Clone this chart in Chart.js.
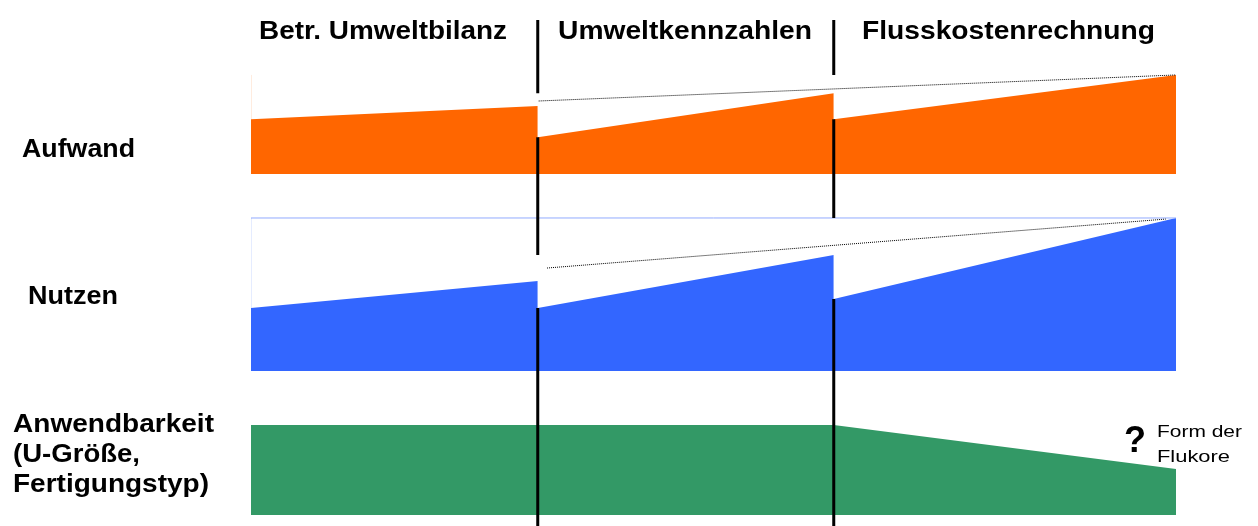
<!DOCTYPE html>
<html>
<head>
<meta charset="utf-8">
<script src="https://cdn.jsdelivr.net/npm/chart.js@4/dist/chart.umd.min.js"></script>
<style>
  html, body { margin: 0; padding: 0; background: #fff; }
  #chart { display: block; }
</style>
</head>
<body>
<canvas id="chart" width="1258" height="526"></canvas>
<script>
// Column headers and the x positions (0..100) where the phases start/end
const columns = ['Betr. Umweltbilanz', 'Umweltkennzahlen', 'Flusskostenrechnung'];
const colEdges = [0, 31, 63, 100];

// Row values in percent of each row band (start / end of every column)
const aufwandStart = [55.3, 37.1, 55.3];
const aufwandEnd = [68.7, 81.5, 100];
const nutzenStart = [41.2, 41.2, 47.1];
const nutzenEnd = [58.8, 75.8, 100];
const anwendStart = [100, 100, 100];
const anwendEnd = [100, 100, 51.1];

// dotted trend lines [x, value]
const aufwandTrend = [[31.1, 73.7], [100, 100]];
const nutzenTrend = [[32, 67.3], [98.9, 99.3]];

// row bands on the shared y axis (0..100 over the whole height)
const rows = [
    { label: ['Aufwand'], start: aufwandStart, end: aufwandEnd, trend: aufwandTrend,
      base: 69.57, span: 19.57, color: '#ff6600', edge: 'rgba(255,102,0,0.25)' },
    { label: ['Nutzen'], start: nutzenStart, end: nutzenEnd, trend: nutzenTrend,
      base: 30.63, span: 30.24, color: '#3366ff', edge: 'rgba(51,102,255,0.25)', topLine: '#92abff' },
    { label: ['Anwendbarkeit', '(U-Größe,', 'Fertigungstyp)'], start: anwendStart, end: anwendEnd, trend: null,
      base: 2.17, span: 17.79, color: '#339966' }
];

// text placement (pixels): [x, baseline, width]
const headerPos = [[259, 39, 248], [558, 39, 254], [862, 39, 293]];
const rowLabelPos = [
    [[22, 157, 113]],
    [[28, 304, 90]],
    [[13, 432, 201], [13, 462, 127], [13, 492, 196]]
];

function toY(row, v) {
    return row.base + v * row.span / 100;
}

const datasets = [];
rows.forEach(function(row) {
    for (let i = 0; i < columns.length; i++) {
        datasets.push({
            data: [{ x: colEdges[i], y: toY(row, row.start[i]) }, { x: colEdges[i + 1], y: toY(row, row.end[i]) }],
            borderWidth: 0,
            backgroundColor: row.color,
            fill: { value: row.base },
            order: 5
        });
    }
    if (row.edge) {
        // faint left edge of the band above the first column
        datasets.push({
            data: [{ x: colEdges[0], y: toY(row, row.start[0]) }, { x: colEdges[0], y: toY(row, 100) }],
            borderColor: row.edge,
            borderWidth: 1,
            fill: false,
            order: 4
        });
    }
    if (row.topLine) {
        datasets.push({
            data: [{ x: colEdges[0], y: toY(row, 100) }, { x: colEdges[3], y: toY(row, 100) }],
            borderColor: row.topLine,
            borderWidth: 1,
            fill: false,
            order: 4
        });
    }
    if (row.trend) {
        datasets.push({
            data: row.trend.map(p => ({ x: p[0], y: toY(row, p[1]) })),
            borderColor: '#000',
            borderWidth: 1,
            borderDash: [1, 1],
            fill: false,
            order: 3
        });
    }
});

// vertical phase separators, interrupted where the next phase rises
[1, 2].forEach(function(k) {
    const gaps = [];
    rows.forEach(function(row) {
        const s = row.start[k], e = row.end[k];
        if (e > s) gaps.push([toY(row, s), toY(row, e)]);
    });
    gaps.sort((a, b) => a[0] - b[0]);
    const pts = [];
    let cur = 0;
    gaps.forEach(function(g) {
        pts.push({ x: colEdges[k], y: cur }, { x: colEdges[k], y: g[0] }, { x: colEdges[k], y: null });
        cur = g[1];
    });
    pts.push({ x: colEdges[k], y: cur }, { x: colEdges[k], y: 100 });
    datasets.push({
        data: pts,
        borderColor: '#000',
        borderWidth: 3,
        fill: false,
        spanGaps: false,
        order: 1
    });
});

// draw text stretched to the width it has in the original slide
function fillFit(ctx, text, x, y, width) {
    const w = ctx.measureText(text).width;
    ctx.save();
    ctx.translate(x, y);
    ctx.scale(width / w, 1);
    ctx.fillText(text, 0, 0);
    ctx.restore();
}

const textPlugin = {
    id: 'texts',
    afterDraw(chart) {
        const ctx = chart.ctx;
        ctx.save();
        ctx.fillStyle = '#000';
        ctx.textBaseline = 'alphabetic';
        ctx.textAlign = 'left';
        ctx.font = 'bold 25px "Liberation Sans", Arial, sans-serif';
        columns.forEach(function(c, i) {
            fillFit(ctx, c, headerPos[i][0], headerPos[i][1], headerPos[i][2]);
        });
        ctx.font = 'bold 26px "Liberation Sans", Arial, sans-serif';
        rows.forEach(function(row, i) {
            row.label.forEach(function(line, j) {
                const p = rowLabelPos[i][j];
                fillFit(ctx, line, p[0], p[1], p[2]);
            });
        });
        ctx.font = 'bold 36px "Liberation Sans", Arial, sans-serif';
        ctx.textAlign = 'center';
        ctx.fillText('?', 1135, 452);
        ctx.textAlign = 'left';
        ctx.font = '17px "Liberation Sans", Arial, sans-serif';
        fillFit(ctx, 'Form der', 1157, 437, 85);
        fillFit(ctx, 'Flukore', 1157, 462, 73);
        ctx.restore();
    }
};

new Chart(document.getElementById('chart').getContext('2d'), {
    type: 'line',
    data: { datasets: datasets },
    options: {
        responsive: false,
        animation: false,
        layout: { padding: { left: 251, right: 82, top: 20, bottom: 0 } },
        elements: { point: { radius: 0 }, line: { tension: 0 } },
        plugins: { legend: { display: false }, tooltip: { enabled: false } },
        scales: {
            x: { type: 'linear', display: false, min: 0, max: 100 },
            y: { type: 'linear', display: false, min: 0, max: 100 }
        }
    },
    plugins: [textPlugin]
});
</script>
</body>
</html>
